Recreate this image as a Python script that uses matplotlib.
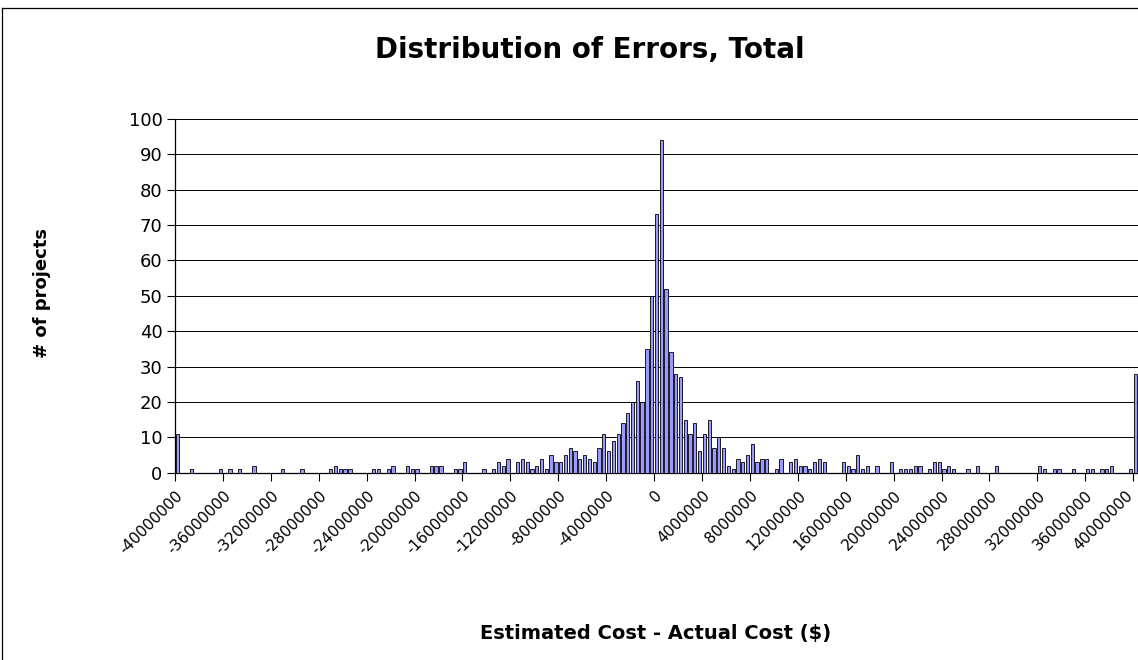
import numpy as np
import matplotlib
matplotlib.use("Agg")
import matplotlib.pyplot as plt
import matplotlib.transforms as mtransforms
from matplotlib.lines import Line2D

# ---- data ----
bin_start = -40000000
bin_width = 400000
counts = [
    11, 0, 0, 1, 0, 0, 0, 0, 0, 1,
    0, 1, 0, 1, 0, 0, 2, 0, 0, 0,
    0, 0, 1, 0, 0, 0, 1, 0, 0, 0,
    0, 0, 1, 2, 1, 1, 1, 0, 0, 0,
    0, 1, 1, 0, 1, 2, 0, 0, 2, 1,
    1, 0, 0, 2, 2, 2, 0, 0, 1, 1,
    3, 0, 0, 0, 1, 0, 1, 3, 2, 4,
    0, 3, 4, 3, 1, 2, 4, 1, 5, 3,
    3, 5, 7, 6, 4, 5, 4, 3, 7, 11,
    6, 9, 11, 14, 17, 20, 26, 20, 35, 50,
    73, 94, 52, 34, 28, 27, 15, 11, 14, 6,
    11, 15, 7, 10, 7, 2, 1, 4, 3, 5,
    8, 3, 4, 4, 0, 1, 4, 0, 3, 4,
    2, 2, 1, 3, 4, 3, 0, 0, 0, 3,
    2, 1, 5, 1, 2, 0, 2, 0, 0, 3,
    0, 1, 1, 1, 2, 2, 0, 1, 3, 3,
    1, 2, 1, 0, 0, 1, 0, 2, 0, 0,
    0, 2, 0, 0, 0, 0, 0, 0, 0, 0,
    2, 1, 0, 1, 1, 0, 0, 1, 0, 0,
    1, 1, 0, 1, 1, 2, 0, 0, 0, 1,
    28,
]
bins = bin_start + bin_width * np.arange(len(counts))
tick_labels = [str(v) for v in range(-40000000, 40000001, 4000000)]
title = "Distribution of Errors, Total"
xlabel = "Estimated Cost - Actual Cost ($)"
ylabel = "# of projects"

# ---- figure ----
W, H = 1138, 660
fig = plt.figure(figsize=(W / 100, H / 100), dpi=100)
plt.rcParams['font.family'] = ['DejaVu Sans']

left_px, right_px, top_px, bottom_px = 175, 1138, 119, 472.7
ax = fig.add_axes([left_px / W, 1 - bottom_px / H,
                   (right_px - left_px) / W, (bottom_px - top_px) / H])

ax.bar(bins, counts, width=bin_width * 0.68, color='#9999FF',
       edgecolor='black', linewidth=0.6, zorder=3)

half = bin_width / 2
ax.set_xlim(bins[0] - half, bins[-1] + half)
ax.set_ylim(0, 100)
ax.set_yticks(range(0, 101, 10))
ax.tick_params(axis='y', labelsize=13, length=6, width=0.8, direction='out', pad=3)
ax.yaxis.grid(True, color='black', linewidth=0.7, zorder=0)

tick_pos = [bins[0] - half + 10 * bin_width * k for k in range(len(tick_labels))]
ax.set_xticks(tick_pos)
ax.set_xticklabels(tick_labels, rotation=45, ha='right', rotation_mode='anchor',
                   fontsize=11)
ax.tick_params(axis='x', length=6, width=0.8, direction='out', pad=5)
last = ax.get_xticklabels()[-1]
last.set_transform(last.get_transform() +
                   mtransforms.ScaledTranslation(-8 / 100, 0, fig.dpi_scale_trans))

for s in ['top', 'right']:
    ax.spines[s].set_visible(False)
for s in ['left', 'bottom']:
    ax.spines[s].set_color('black')
    ax.spines[s].set_linewidth(0.9)

fig.text(590 / W, 1 - 50 / H, title, ha='center', va='center',
         fontsize=20, fontweight='bold')
fig.text(656 / W, 1 - 633 / H, xlabel, ha='center', va='center',
         fontsize=14, fontweight='bold')
fig.text(42 / W, 1 - 293 / H, ylabel, ha='center', va='center',
         fontsize=13, fontweight='bold', rotation=90)

# outer chart border (left and top visible)
fig.add_artist(Line2D([1.5 / W, 1.5 / W], [0, 1 - 8 / H], transform=fig.transFigure,
                      color='black', linewidth=0.9))
fig.add_artist(Line2D([1.5 / W, 1], [1 - 8 / H, 1 - 8 / H], transform=fig.transFigure,
                      color='black', linewidth=0.9))

fig.savefig("out.png", dpi=100, facecolor='white')
